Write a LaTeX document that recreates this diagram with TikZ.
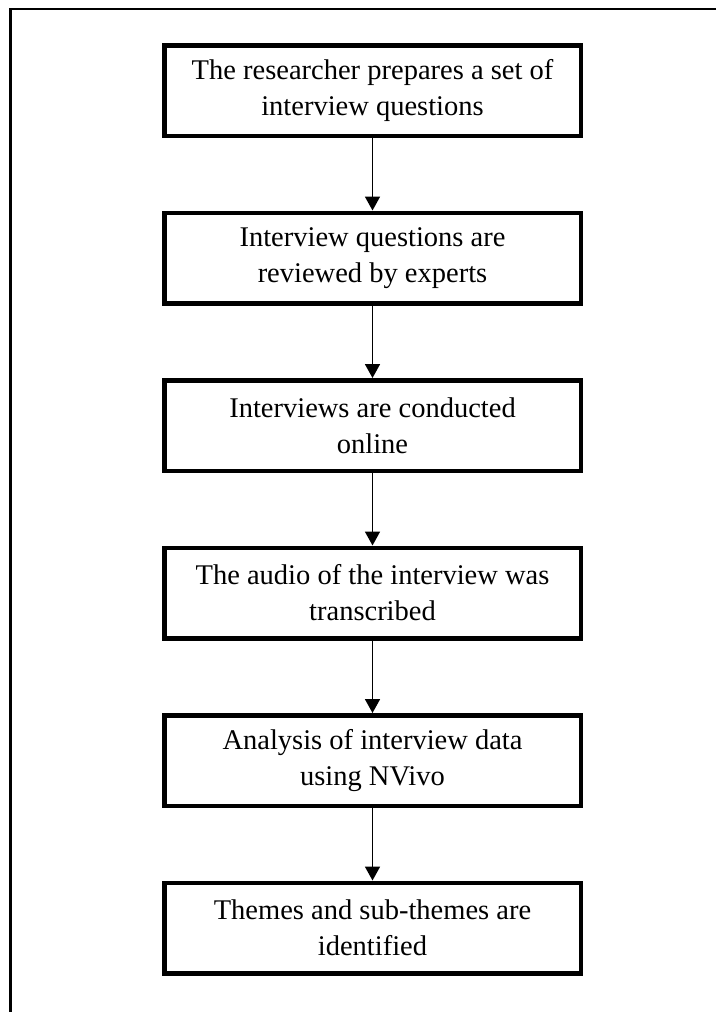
\documentclass[tikz,border=0pt]{standalone}
\usepackage{fontspec}
\setmainfont{Liberation Serif}
\usetikzlibrary{arrows.meta,positioning}

\begin{document}
\begin{tikzpicture}[
        stepbox/.style={
            draw, rectangle, line width=4.5pt,
            minimum width=416.5pt, minimum height=90.5pt,
            align=center, inner sep=0pt,
            font=\fontsize{28.5}{36}\selectfont
        },
        flow/.style={-{Triangle[width=15pt,length=14pt]}, line width=1.8pt},
        node distance=72.5pt
      ]

  \useasboundingbox (0pt,0pt) rectangle (716pt,-1012pt);
  \draw[line width=2.5pt] (716pt,-9pt) -| (10.5pt,-1012pt);

  \node[stepbox] (prep) at (372.5pt,-90.5pt) {The researcher prepares a set of\\interview questions};
  \node[stepbox,below=of prep] (review) {Interview questions are\\reviewed by experts};
  \node[stepbox,below=of review] (conduct) {Interviews are conducted\\online};
  \node[stepbox,below=of conduct] (transcribe) {The audio of the interview was\\transcribed};
  \node[stepbox,below=of transcribe] (analyse) {Analysis of interview data\\using NVivo};
  \node[stepbox,below=of analyse] (themes) {Themes and sub-themes are\\identified};

  \path[flow] (prep) edge (review);
  \path[flow] (review) edge (conduct);
  \path[flow] (conduct) edge (transcribe);
  \path[flow] (transcribe) edge (analyse);
  \path[flow] (analyse) edge (themes);
\end{tikzpicture}
\end{document}
